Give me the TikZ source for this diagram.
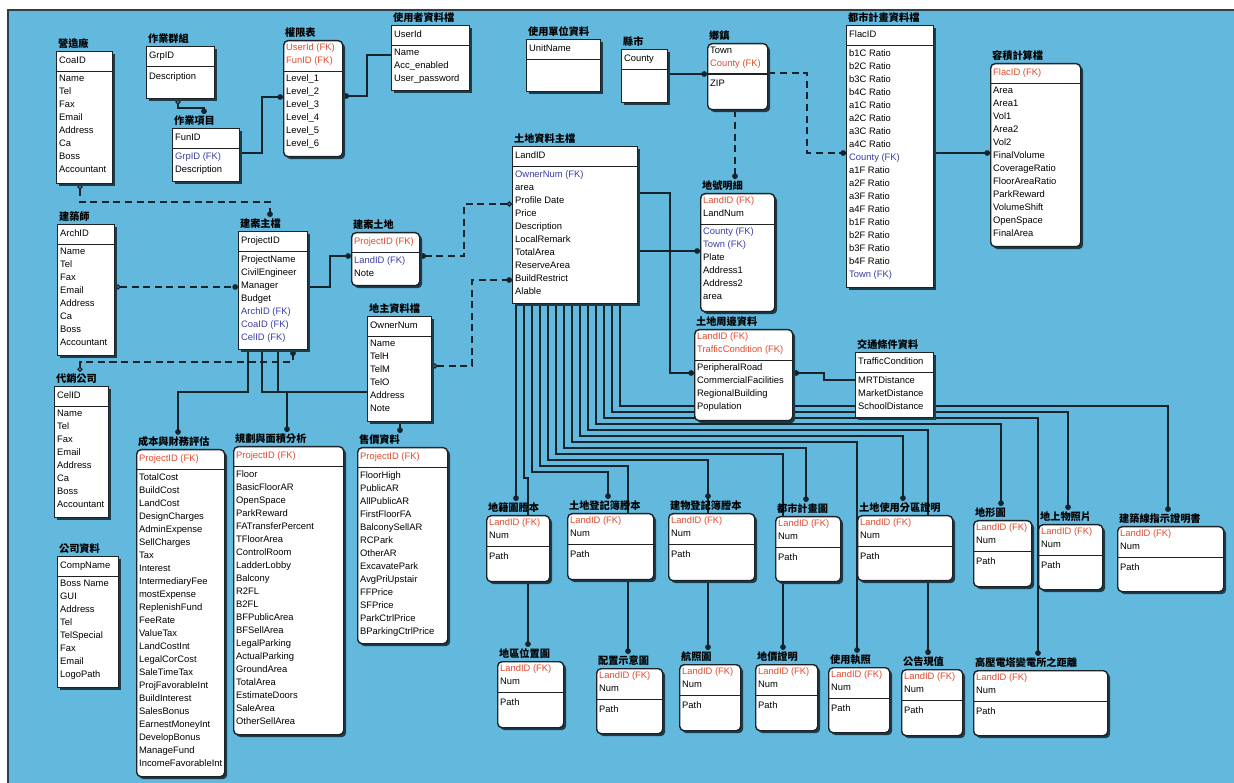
\documentclass[tikz,border=0pt]{standalone}
\usepackage{fontspec}
\setmainfont{Liberation Sans}
\newfontfamily\cjk{Noto Sans CJK TC}
\usetikzlibrary{arrows.meta,shadows}
\definecolor{bgblue}{HTML}{62B8DD}
\definecolor{framec}{HTML}{2B3F47}
\definecolor{boxline}{HTML}{1C2226}
\definecolor{shadowc}{HTML}{1E3C48}
\definecolor{linec}{HTML}{15232A}
\definecolor{fkred}{HTML}{E04A2E}
\definecolor{fkblue}{HTML}{3A3DA6}
\newcommand{\fkr}[1]{\textcolor{fkred}{#1}}
\newcommand{\fkb}[1]{\textcolor{fkblue}{#1}}
\pgfdeclarelayer{back}
\pgfdeclarelayer{links}
\pgfsetlayers{back,links,main}
% entity: name, box style, top left, title, key rows, attribute rows
\newcommand{\ent}[6]{%
  \node[#2] (#1) at #3 {};
  \node[ttl] (#1-t) at (#1.north west) {#4};
  \node[rows] (#1-k) at (#1.north west) {#5};
  \draw[sepl] (#1.west |- #1-k.south) -- (#1.east |- #1-k.south);
  \node[rows] (#1-a) at (#1-k.south west) {#6};
}

\begin{document}
\begin{tikzpicture}[
  x=0.02cm, y=-0.02cm,
  tbl/.style={draw=boxline, fill=white, line width=0.8pt, anchor=north west, inner sep=0pt,
     drop shadow={shadow xshift=1.4pt, shadow yshift=-1.4pt, fill=shadowc, opacity=1}},
  dtbl/.style={tbl, rounded corners=2.5pt},
  wh/.style 2 args={minimum width={#1*0.02cm}, minimum height={#2*0.02cm}},
  ttl/.style={anchor=south west, inner xsep=1pt, inner ysep=1pt,
     font=\cjk\bfseries\fontsize{5.8}{6}\selectfont},
  rows/.style={anchor=north west, align=left, inner xsep=1.6pt, inner ysep=1.95pt,
     font=\fontsize{5.35}{7.4}\selectfont,
     execute at begin node=\strut, execute at end node=\strut},
  sepl/.style={draw=boxline, line width=0.8pt},
  rel/.style={draw=linec, line width=0.75pt},
  nrel/.style={rel, dash pattern=on 4pt off 2.6pt},
  fk/.style={-{Circle[length=3.2pt]}},
  ofk/.style={{Circle[open,length=3pt]}-{Circle[length=3.2pt]}},
]
\useasboundingbox (0,0) rectangle (1234,783);
\begin{pgfonlayer}{back}
\fill[white] (0,0) rectangle (1234,783);
\fill[bgblue] (8,10) rectangle (1234,783);
\draw[framec, line width=1.2pt] (1234,10) -- (8,10) -- (8,783);
\end{pgfonlayer}

% --- system tables ---
\ent{coa}{tbl, wh={56}{132}}{(56,51)}{營造廠}{CoaID}{Name\\Tel\\Fax\\Email\\Address\\Ca\\Boss\\Accountant}
\ent{grp}{tbl, wh={68}{52}}{(146,46)}{作業群組}{GrpID}{Description}
\ent{fun}{tbl, wh={67}{53}}{(172,128)}{作業項目}{FunID}{\fkb{GrpID (FK)}\\Description}
\ent{perm}{dtbl, wh={59}{116}}{(283,40)}{權限表}{\fkr{UserId (FK)}\\\fkr{FunID (FK)}}{Level\_1\\Level\_2\\Level\_3\\Level\_4\\Level\_5\\Level\_6}
\ent{user}{tbl, wh={78}{65}}{(391,25)}{使用者資料檔}{UserId}{Name\\Acc\_enabled\\User\_password}
\ent{unit}{tbl, wh={74}{52}}{(526,39)}{使用單位資料}{UnitName}{}
% --- region ---
\ent{county}{tbl, wh={46}{53}}{(621,49)}{縣市}{County}{}
\ent{town}{dtbl, wh={60}{66}}{(707,43)}{鄉鎮}{Town\\\fkr{County (FK)}}{ZIP}
\ent{urban}{tbl, wh={87}{262}}{(846,25)}{都市計畫資料檔}{FlacID}{b1C Ratio\\b2C Ratio\\b3C Ratio\\b4C Ratio\\a1C Ratio\\a2C Ratio\\a3C Ratio\\a4C Ratio\\\fkb{County (FK)}\\a1F Ratio\\a2F Ratio\\a3F Ratio\\a4F Ratio\\b1F Ratio\\b2F Ratio\\b3F Ratio\\b4F Ratio\\\fkb{Town (FK)}}
\ent{flac}{dtbl, wh={90}{183}}{(990,63)}{容積計算檔}{\fkr{FlacID (FK)}}{Area\\Area1\\Vol1\\Area2\\Vol2\\FinalVolume\\CoverageRatio\\FloorAreaRatio\\ParkReward\\VolumeShift\\OpenSpace\\FinalArea}
% --- land ---
\ent{land}{tbl, wh={125}{157}}{(512,146)}{土地資料主檔}{LandID}{\fkb{OwnerNum (FK)}\\area\\Profile Date\\Price\\Description\\LocalRemark\\TotalArea\\ReserveArea\\BuildRestrict\\Alable}
\ent{lnum}{dtbl, wh={74}{118}}{(700,193)}{地號明細}{\fkr{LandID (FK)}\\LandNum}{\fkb{County (FK)}\\\fkb{Town (FK)}\\Plate\\Address1\\Address2\\area}
\ent{surr}{dtbl, wh={98}{91}}{(694,329)}{土地周邊資料}{\fkr{LandID (FK)}\\\fkr{TrafficCondition (FK)}}{PeripheralRoad\\CommercialFacilities\\RegionalBuilding\\Population}
\ent{traf}{tbl, wh={78}{65}}{(855,352)}{交通條件資料}{TrafficCondition}{MRTDistance\\MarketDistance\\SchoolDistance}
\ent{owner}{tbl, wh={64}{105}}{(367,316)}{地主資料檔}{OwnerNum}{Name\\TelH\\TelM\\TelO\\Address\\Note}
% --- project ---
\ent{arch}{tbl, wh={57}{131}}{(57,224)}{建築師}{ArchID}{Name\\Tel\\Fax\\Email\\Address\\Ca\\Boss\\Accountant}
\ent{proj}{tbl, wh={69}{118}}{(238,231)}{建案主檔}{ProjectID}{ProjectName\\CivilEngineer\\Manager\\Budget\\\fkb{ArchID (FK)}\\\fkb{CoaID (FK)}\\\fkb{CelID (FK)}}
\ent{pland}{dtbl, wh={68}{53}}{(351,232)}{建案土地}{\fkr{ProjectID (FK)}}{\fkb{LandID (FK)}\\Note}
\ent{cel}{tbl, wh={54}{131}}{(54,386)}{代銷公司}{CelID}{Name\\Tel\\Fax\\Email\\Address\\Ca\\Boss\\Accountant}
\ent{comp}{tbl, wh={61}{131}}{(57,556)}{公司資料}{CompName}{Boss Name\\GUI\\Address\\Tel\\TelSpecial\\Fax\\Email\\LogoPath}
\ent{cost}{dtbl, wh={88}{327}}{(136,449)}{成本與財務評估}{\fkr{ProjectID (FK)}}{TotalCost\\BuildCost\\LandCost\\DesignCharges\\AdminExpense\\SellCharges\\Tax\\Interest\\IntermediaryFee\\mostExpense\\ReplenishFund\\FeeRate\\ValueTax\\LandCostInt\\LegalCorCost\\SaleTimeTax\\ProjFavorableInt\\BuildInterest\\SalesBonus\\EarnestMoneyInt\\DevelopBonus\\ManageFund\\IncomeFavorableInt}
\ent{plan}{dtbl, wh={110}{288}}{(233,446)}{規劃與面積分析}{\fkr{ProjectID (FK)}}{Floor\\BasicFloorAR\\OpenSpace\\ParkReward\\FATransferPercent\\TFloorArea\\ControlRoom\\LadderLobby\\Balcony\\R2FL\\B2FL\\BFPublicArea\\BFSellArea\\LegalParking\\ActualParking\\GroundArea\\TotalArea\\EstimateDoors\\SaleArea\\OtherSellArea}
\ent{price}{dtbl, wh={90}{196}}{(357,447)}{售價資料}{\fkr{ProjectID (FK)}}{FloorHigh\\PublicAR\\AllPublicAR\\FirstFloorFA\\BalconySellAR\\RCPark\\OtherAR\\ExcavatePark\\AvgPriUpstair\\FFPrice\\SFPrice\\ParkCtrlPrice\\BParkingCtrlPrice}
% --- land documents, first row ---
\ent{cadmap}{dtbl, wh={63}{66}}{(486,515)}{地籍圖謄本}{\fkr{LandID (FK)}\\Num}{Path}
\ent{landreg}{dtbl, wh={86}{66}}{(567,513)}{土地登記簿謄本}{\fkr{LandID (FK)}\\Num}{Path}
\ent{bldreg}{dtbl, wh={86}{67}}{(668,513)}{建物登記簿謄本}{\fkr{LandID (FK)}\\Num}{Path}
\ent{citymap}{dtbl, wh={65}{65}}{(775,516)}{都市計畫圖}{\fkr{LandID (FK)}\\Num}{Path}
\ent{zoning}{dtbl, wh={95}{65}}{(857,515)}{土地使用分區證明}{\fkr{LandID (FK)}\\Num}{Path}
\ent{topo}{dtbl, wh={58}{66}}{(973,520)}{地形圖}{\fkr{LandID (FK)}\\Num}{Path}
\ent{photo}{dtbl, wh={64}{65}}{(1038,524)}{地上物照片}{\fkr{LandID (FK)}\\Num}{Path}
\ent{bline}{dtbl, wh={106}{65}}{(1117,526)}{建築線指示證明書}{\fkr{LandID (FK)}\\Num}{Path}
% --- land documents, second row ---
\ent{locmap}{dtbl, wh={66}{66}}{(497,661)}{地區位置圖}{\fkr{LandID (FK)}\\Num}{Path}
\ent{layout}{dtbl, wh={66}{65}}{(596,668)}{配置示意圖}{\fkr{LandID (FK)}\\Num}{Path}
\ent{aerial}{dtbl, wh={61}{66}}{(679,664)}{航照圖}{\fkr{LandID (FK)}\\Num}{Path}
\ent{lprice}{dtbl, wh={62}{66}}{(755,664)}{地價證明}{\fkr{LandID (FK)}\\Num}{Path}
\ent{permit}{dtbl, wh={61}{65}}{(828,667)}{使用執照}{\fkr{LandID (FK)}\\Num}{Path}
\ent{pvalue}{dtbl, wh={61}{66}}{(901,669)}{公告現值}{\fkr{LandID (FK)}\\Num}{Path}
\ent{tower}{dtbl, wh={134}{65}}{(973,670)}{高壓電塔變電所之距離}{\fkr{LandID (FK)}\\Num}{Path}

\begin{pgfonlayer}{links}
% --- system tables ---
\draw[rel, ofk] (178,0 |- grp.south) -- (178,108) -- (204,108) -- (204,0 |- fun-t.north);
\draw[rel, fk] (fun.east |- 0,153) -- (262,153) -- (262,97) -- (perm.west |- 0,97);
\draw[rel, {Circle[length=3.2pt]}-] (perm.east |- 0,96) -- (367,96) -- (367,55) -- (user.west |- 0,55);
% --- region ---
\draw[rel, fk] (county.east |- 0,74) -- (town.west |- 0,74);
\draw[nrel, fk] (town.east |- 0,73) -- (807,73) -- (807,153) -- (urban.west |- 0,153);
\draw[nrel, fk] (735,0 |- town.south) -- (735,0 |- lnum-t.north);
\draw[rel, fk] (urban.east |- 0,153) -- (flac.west |- 0,153);
% --- land ---
\draw[rel, fk] (land.east |- 0,251) -- (lnum.west |- 0,251);
\draw[rel, fk] (land.east |- 0,193) -- (670,193) -- (670,373) -- (surr.west |- 0,373);
\draw[rel, fk] (traf.west |- 0,380) -- (824,380) -- (824,373) -- (surr.east |- 0,373);
% --- project ---
\draw[nrel, ofk] (80,0 |- coa.south) -- (80,202) -- (270,202) -- (270,0 |- proj-t.north);
\draw[nrel, ofk] (arch.east |- 0,287) -- (proj.west |- 0,287);
\draw[nrel, ofk] (80,0 |- cel-t.north) -- (80,362) -- (293,362) -- (293,0 |- proj.south);
\draw[rel, fk] (proj.east |- 0,287) -- (330,287) -- (330,256) -- (pland.west |- 0,256);
\draw[nrel, ofk] (land.west |- 0,204) -- (464,204) -- (464,256) -- (pland.east |- 0,256);
\draw[nrel, ofk] (owner.east |- 0,366) -- (472,366) -- (472,280) -- (land.west |- 0,280);
\draw[rel, fk] (248,0 |- proj.south) -- (248,392) -- (178,392) -- (178,0 |- cost-t.north);
\draw[rel, fk] (262,0 |- proj.south) -- (262,392) -- (287,392) -- (287,0 |- plan-t.north);
\draw[rel, fk] (278,0 |- proj.south) -- (278,392) -- (400,392) -- (400,0 |- price-t.north);
% --- land -> documents ---
\draw[rel, fk] (516,0 |- land.south) -- (516,0 |- cadmap-t.north);
\draw[rel, fk] (524,0 |- land.south) -- (524,478) -- (528,478) -- (528,0 |- locmap-t.north);
\draw[rel, fk] (532,0 |- land.south) -- (532,472) -- (608,472) -- (608,0 |- landreg-t.north);
\draw[rel, fk] (540,0 |- land.south) -- (540,466) -- (628,466) -- (628,0 |- layout-t.north);
\draw[rel, fk] (548,0 |- land.south) -- (548,460) -- (708,460) -- (708,0 |- bldreg-t.north);
\draw[rel, fk] (548,0 |- land.south) -- (548,460) -- (708,460) -- (708,0 |- aerial-t.north);
\draw[rel, fk] (556,0 |- land.south) -- (556,454) -- (783,454) -- (783,0 |- lprice-t.north);
\draw[rel, fk] (564,0 |- land.south) -- (564,448) -- (806,448) -- (806,0 |- citymap-t.north);
\draw[rel, fk] (572,0 |- land.south) -- (572,442) -- (857,442) -- (857,0 |- permit-t.north);
\draw[rel, fk] (580,0 |- land.south) -- (580,436) -- (903,436) -- (903,0 |- zoning-t.north);
\draw[rel, fk] (588,0 |- land.south) -- (588,430) -- (928,430) -- (928,0 |- pvalue-t.north);
\draw[rel, fk] (596,0 |- land.south) -- (596,424) -- (1001,424) -- (1001,0 |- topo-t.north);
\draw[rel, fk] (604,0 |- land.south) -- (604,418) -- (1038,418) -- (1038,0 |- tower-t.north);
\draw[rel, fk] (612,0 |- land.south) -- (612,412) -- (1068,412) -- (1068,0 |- photo-t.north);
\draw[rel, fk] (620,0 |- land.south) -- (620,406) -- (1168,406) -- (1168,0 |- bline-t.north);
\end{pgfonlayer}
\end{tikzpicture}
\end{document}
